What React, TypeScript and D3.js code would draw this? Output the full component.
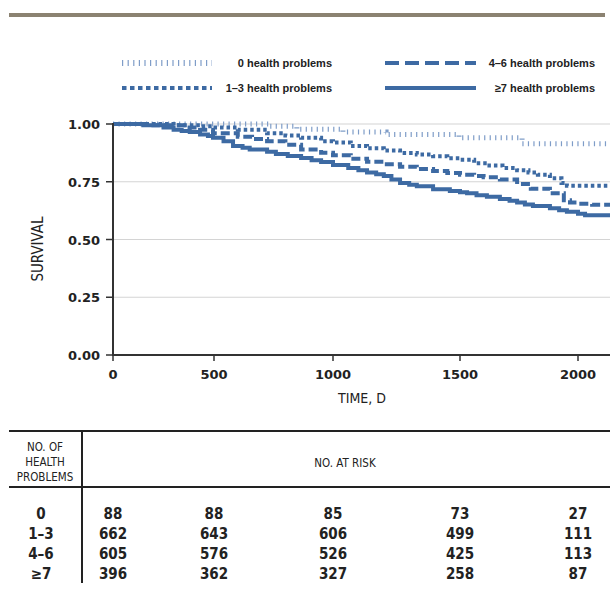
import React from "react";
import * as d3 from "d3";

// Kaplan-Meier curves: [time in days, survival]
const group0: [number, number][] = [
  [0, 1.0], [735, 0.99], [848, 0.977], [1039, 0.965], [1209, 0.955], [1496, 0.94], [1763, 0.915], [2136, 0.915],
];
const group13: [number, number][] = [
  [0, 1.0], [300, 0.995], [431, 0.99], [495, 0.985], [600, 0.975], [723, 0.96], [800, 0.95], [866, 0.94], [950, 0.925],
  [1000, 0.92], [1070, 0.905], [1134, 0.895], [1200, 0.885], [1264, 0.875], [1330, 0.868], [1394, 0.86], [1450, 0.852],
  [1500, 0.845], [1560, 0.83], [1614, 0.82], [1680, 0.81], [1742, 0.8], [1790, 0.79], [1830, 0.78], [1881, 0.765],
  [1930, 0.745], [1953, 0.733], [2136, 0.733],
];
const group46: [number, number][] = [
  [0, 1.0], [200, 0.995], [350, 0.985], [431, 0.975], [495, 0.96], [600, 0.945], [660, 0.935], [723, 0.925], [800, 0.91],
  [866, 0.89], [950, 0.876], [1000, 0.865], [1070, 0.85], [1134, 0.837], [1200, 0.826], [1264, 0.815], [1330, 0.805],
  [1394, 0.796], [1450, 0.788], [1500, 0.78], [1560, 0.775], [1600, 0.77], [1669, 0.76], [1742, 0.74], [1800, 0.72],
  [1881, 0.7], [1940, 0.67], [1966, 0.66], [2000, 0.655], [2060, 0.65], [2136, 0.65],
];
const group7: [number, number][] = [
  [0, 1.0], [150, 0.995], [250, 0.985], [300, 0.975], [340, 0.97], [380, 0.965], [431, 0.955], [470, 0.948], [495, 0.94],
  [540, 0.925], [580, 0.905], [620, 0.897], [650, 0.89], [723, 0.88], [760, 0.87], [810, 0.862], [866, 0.853],
  [910, 0.843], [950, 0.835], [1000, 0.822], [1060, 0.81], [1100, 0.8], [1134, 0.79], [1170, 0.782], [1200, 0.775],
  [1230, 0.76], [1264, 0.745], [1300, 0.737], [1330, 0.73], [1394, 0.718], [1460, 0.71], [1500, 0.705], [1530, 0.7],
  [1570, 0.692], [1614, 0.685], [1669, 0.675], [1710, 0.668], [1742, 0.66], [1775, 0.652], [1809, 0.645],
  [1881, 0.635], [1920, 0.627], [1953, 0.62], [2000, 0.612], [2030, 0.605], [2136, 0.605],
];

const xTicks = [0, 500, 1000, 1500, 2000];
const yTicks = [0, 0.25, 0.5, 0.75, 1.0];
const groupLabels = ["0", "1–3", "4–6", "≥7"];
const legendLabels = ["0 health problems", "1–3 health problems", "4–6 health problems", "≥7 health problems"];
const atRisk0 = [88, 88, 85, 73, 27];
const atRisk13 = [662, 643, 606, 499, 111];
const atRisk46 = [605, 576, 526, 425, 113];
const atRisk7 = [396, 362, 327, 258, 87];

const BLUE = "#3d6aa3";
const LIGHT = "#7f9dc8";
const COND = "'Liberation Sans Narrow', 'DejaVu Sans Condensed', 'Arial Narrow', sans-serif";
const SANS = "'DejaVu Sans', sans-serif";
const LEG = "'Liberation Sans', Arial, sans-serif";

export default function App() {
  // The printed axis is not evenly spaced; follow the tick positions of the picture
  const x = d3.scaleLinear().domain([0, 500, 1000, 1500, 2000, 2136]).range([113, 214, 333, 460, 578, 610]);
  const y = d3.scaleLinear().domain([0, 1]).range([355, 124]);
  const line = d3
    .line<[number, number]>()
    .x((d) => x(d[0]))
    .y((d) => y(d[1]))
    .curve(d3.curveStepAfter);

  const series = [
    { data: group0, stroke: LIGHT, width: 5, dash: "1.2,4.3" },
    { data: group13, stroke: BLUE, width: 4, dash: "3.5,3" },
    { data: group46, stroke: BLUE, width: 4, dash: "9,4" },
    { data: group7, stroke: BLUE, width: 4, dash: undefined as string | undefined },
  ];
  const legendStyles = [
    { stroke: LIGHT, width: 6, dash: "1.2,4.4" },
    { stroke: BLUE, width: 4, dash: "4.5,3.5" },
    { stroke: BLUE, width: 4, dash: "14,6" },
    { stroke: BLUE, width: 4, dash: undefined as string | undefined },
  ];
  const legendPos = [
    { x1: 122, x2: 212, tx: 332, y: 63 },
    { x1: 122, x2: 212, tx: 332, y: 88 },
    { x1: 385, x2: 476, tx: 595, y: 63 },
    { x1: 385, x2: 476, tx: 595, y: 88 },
  ];
  const rows = [atRisk0, atRisk13, atRisk46, atRisk7];
  const rowY = [519, 539, 559, 579];

  return (
    <svg width={610} height={592} style={{ position: "absolute", left: 0, top: 0 }}>
      <rect x={0} y={0} width={610} height={592} fill="#fff" />
      <rect x={9} y={13} width={596} height={4} fill="#8b8271" />

      {/* legend */}
      {legendLabels.map((lab, i) => (
        <g key={lab}>
          <line
            x1={legendPos[i].x1}
            x2={legendPos[i].x2}
            y1={legendPos[i].y}
            y2={legendPos[i].y}
            stroke={legendStyles[i].stroke}
            strokeWidth={legendStyles[i].width}
            strokeDasharray={legendStyles[i].dash}
          />
          <text
            x={legendPos[i].tx}
            y={legendPos[i].y + 4}
            textAnchor="end"
            fontFamily={LEG}
            fontWeight="bold"
            fontSize={11}
            fill="#222"
          >
            {lab}
          </text>
        </g>
      ))}

      {/* grid */}
      {yTicks
        .filter((t) => t > 0)
        .map((t) => (
          <line key={t} x1={113} x2={610} y1={y(t)} y2={y(t)} stroke="#d4d4d4" strokeWidth={1.2} />
        ))}

      {/* curves */}
      <defs>
        <clipPath id="plot">
          <rect x={100} y={110} width={510} height={250} />
        </clipPath>
      </defs>
      <g clipPath="url(#plot)">
        {series.map((s, i) => (
          <path
            key={i}
            d={line(s.data) || ""}
            fill="none"
            stroke={s.stroke}
            strokeWidth={s.width}
            strokeDasharray={s.dash}
          />
        ))}
      </g>

      {/* axes */}
      <line x1={113} x2={113} y1={123} y2={356} stroke="#333" strokeWidth={2} />
      <line x1={112} x2={610} y1={355} y2={355} stroke="#333" strokeWidth={2} />
      {yTicks.map((t) => (
        <g key={t}>
          <line x1={106} x2={113} y1={y(t)} y2={y(t)} stroke="#333" strokeWidth={1.5} />
          <text x={100} y={y(t) + 5} textAnchor="end" fontFamily={SANS} fontWeight="bold" fontSize={13} fill="#222">
            {t.toFixed(2)}
          </text>
        </g>
      ))}
      {xTicks.map((t) => (
        <g key={t}>
          <line x1={x(t)} x2={x(t)} y1={355} y2={361} stroke="#333" strokeWidth={1.5} />
          <text x={x(t)} y={379} textAnchor="middle" fontFamily={SANS} fontWeight="bold" fontSize={13} fill="#222">
            {t}
          </text>
        </g>
      ))}
      <text x={362} y={403} textAnchor="middle" fontFamily={COND} fontSize={14} fill="#222">
        TIME, D
      </text>
      <text
        transform="translate(43,249) rotate(-90)"
        textAnchor="middle"
        fontFamily={COND}
        fontSize={15}
        fill="#222"
      >
        SURVIVAL
      </text>

      {/* number at risk table */}
      <line x1={9} x2={610} y1={431} y2={431} stroke="#222" strokeWidth={2} />
      <line x1={9} x2={610} y1={487} y2={487} stroke="#222" strokeWidth={2} />
      <line x1={82} x2={82} y1={431} y2={583} stroke="#222" strokeWidth={2} />
      {["NO. OF", "HEALTH", "PROBLEMS"].map((s, i) => (
        <text key={s} x={45} y={451 + i * 15} textAnchor="middle" fontFamily={COND} fontSize={11.5} fill="#222">
          {s}
        </text>
      ))}
      <text x={345} y={467} textAnchor="middle" fontFamily={COND} fontSize={11.5} fill="#222">
        NO. AT RISK
      </text>
      {rows.map((r, i) => (
        <g key={i}>
          <text x={41} y={rowY[i]} textAnchor="middle" fontFamily={COND} fontWeight="bold" fontSize={15} fill="#222">
            {groupLabels[i]}
          </text>
          {r.map((v, j) => (
            <text
              key={j}
              x={x(xTicks[j])}
              y={rowY[i]}
              textAnchor="middle"
              fontFamily={COND}
              fontWeight="bold"
              fontSize={15}
              fill="#222"
            >
              {v}
            </text>
          ))}
        </g>
      ))}
    </svg>
  );
}
